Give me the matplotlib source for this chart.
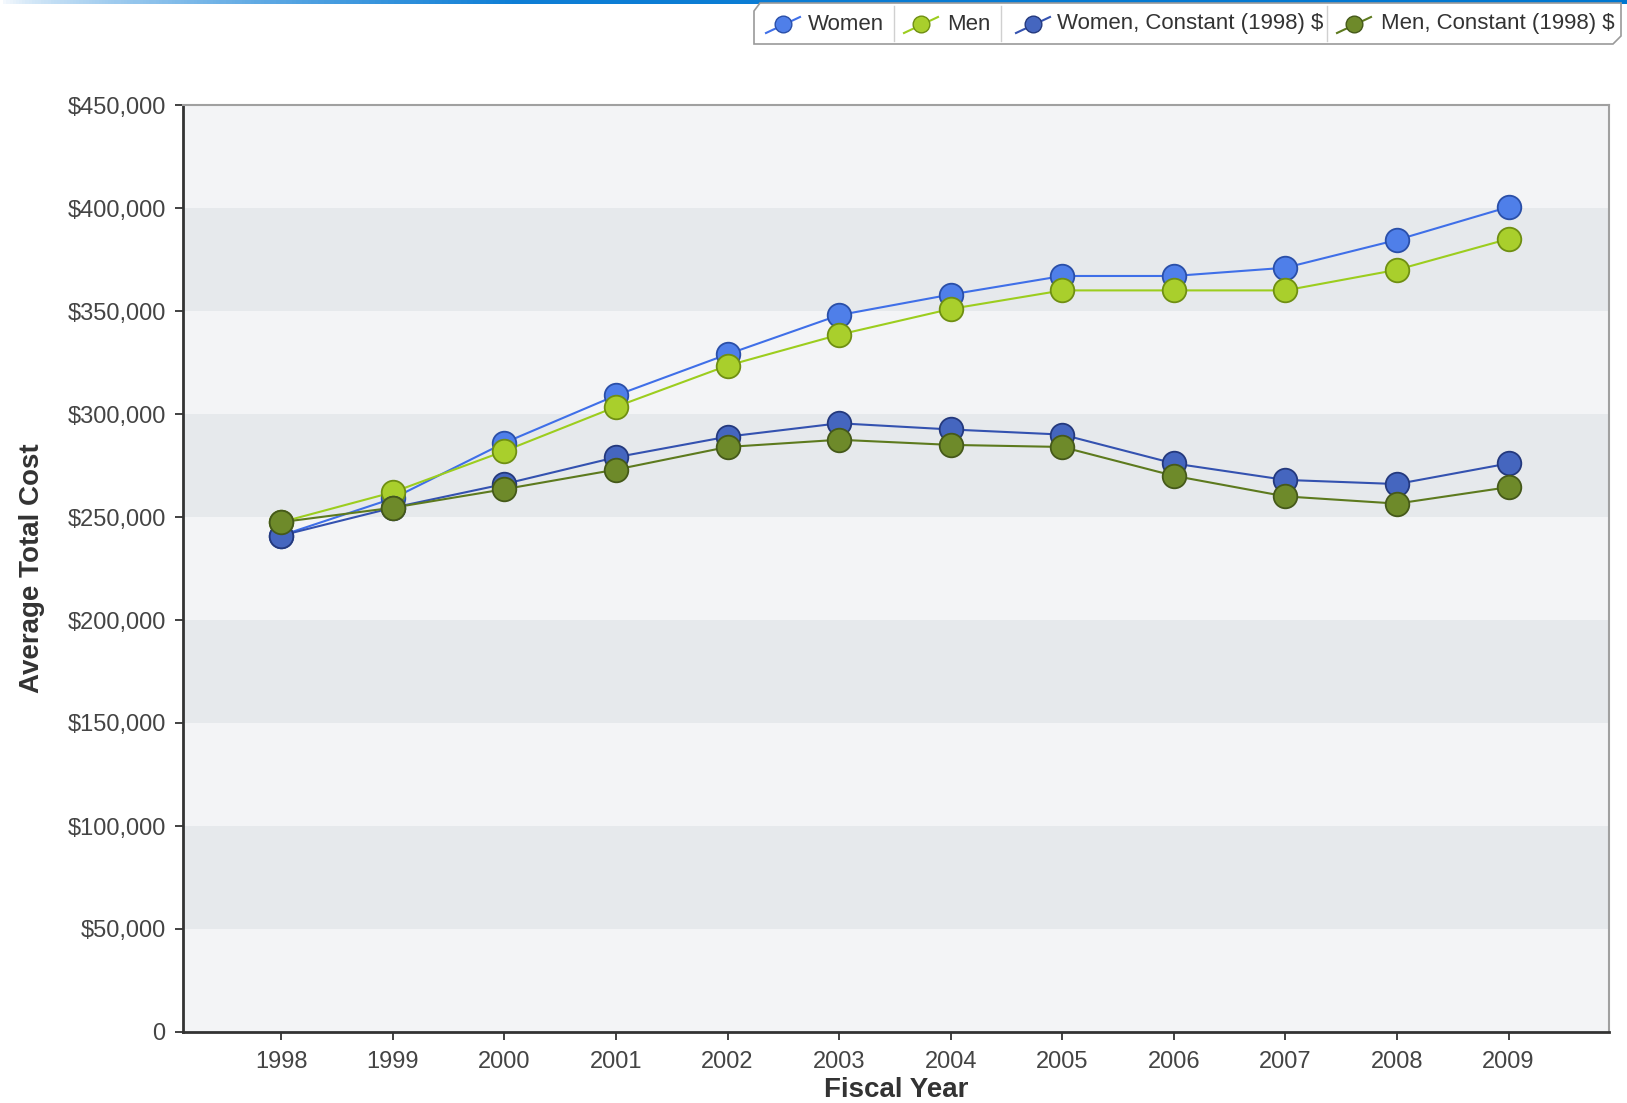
from matplotlib import pyplot as plt
from matplotlib.lines import Line2D
from matplotlib.patches import Polygon
from matplotlib.colors import LinearSegmentedColormap
import numpy as np

plt.rcParams['font.family'] = ['Liberation Sans', 'DejaVu Sans']

W, H = 1627, 1103

years = [1998, 1999, 2000, 2001, 2002, 2003, 2004, 2005, 2006, 2007, 2008, 2009]
women = [241000, 259000, 286000, 309000, 329000, 348000, 358000, 367000, 367000, 371000, 384500, 400500]
men = [247500, 262000, 282000, 303500, 323500, 338500, 351000, 360000, 360000, 360000, 370000, 385000]
women_const = [241000, 254500, 266000, 279000, 289000, 295500, 292500, 290000, 276000, 268000, 266000, 276000]
men_const = [247500, 254500, 263500, 273000, 284000, 287500, 285000, 284000, 270000, 260000, 256500, 264500]

series_names = ['Women', 'Men', 'Women, Constant (1998) $', 'Men, Constant (1998) $']
y_ticks = [0, 50000, 100000, 150000, 200000, 250000, 300000, 350000, 400000, 450000]

# (line colour, marker face, marker edge)
styles = [
    ('#3f6fe8', '#4f7fe9', '#2a4fa8'),
    ('#9ccd1e', '#a9cf2c', '#6f8f12'),
    ('#3452b0', '#4566bf', '#24397d'),
    ('#5d7a1e', '#6e8a2a', '#45591a'),
]

def px(x, y):
    # pixel position -> figure fraction
    return x / W, 1 - y / H

fig = plt.figure(figsize=(W / 100, H / 100), dpi=100)
fig.patch.set_facecolor('white')

# thin gradient strip along the top edge
grad = np.linspace(0, 1, 512) ** 0.6
grad = np.vstack([grad, grad])
gax = fig.add_axes([0, 1 - 4 / H, 1, 4 / H])
gax.imshow(grad, aspect='auto', extent=[0, 1, 0, 1],
           cmap=LinearSegmentedColormap.from_list('g', ['#ffffff', '#0f7fd6', '#0077d0']))
gax.axis('off')

ax = fig.add_axes([183 / W, 1 - 1032 / H, (1609 - 183) / W, (1032 - 105) / H])
ax.set_facecolor('#f3f4f6')

# alternating horizontal bands
for i in range(len(y_ticks) - 1):
    if i % 2 == 1:
        ax.axhspan(y_ticks[i], y_ticks[i + 1], color='#e6e9ec', lw=0, zorder=0)

all_series = [women, men, women_const, men_const]
for vals, (lc, fc, ec) in zip(all_series, styles):
    ax.plot(years, vals, color=lc, lw=1.5, zorder=2)
for vals, (lc, fc, ec) in zip(all_series, styles):
    ax.plot(years, vals, ls='none', marker='o', ms=17, mfc=fc, mec=ec, mew=1.3, zorder=3)

ax.set_xlim(1997.12, 2009.9)
ax.set_ylim(0, 450000)
ax.set_xticks(years)
ax.set_xticklabels([str(y) for y in years], fontsize=17, color='#444444')
ax.set_yticks(y_ticks)
ax.set_yticklabels(['0'] + ['${:,}'.format(v) for v in y_ticks[1:]], fontsize=17, color='#444444')
ax.tick_params(axis='both', direction='out', length=6, width=1.3, color='#333333')
ax.tick_params(axis='y', pad=6.5)
ax.tick_params(axis='x', pad=8)

for side in ['left', 'bottom']:
    ax.spines[side].set_color('#333333')
    ax.spines[side].set_linewidth(2)
for side in ['top', 'right']:
    ax.spines[side].set_color('#a0a0a0')
    ax.spines[side].set_linewidth(1.5)

ax.set_xlabel('Fiscal Year', fontsize=20, fontweight='bold', color='#333333', va='center')
ax.set_ylabel('Average Total Cost', fontsize=20, fontweight='bold', color='#333333', va='center')
ax.xaxis.set_label_coords(0.5, (1032 - 1090) / 927)
ax.yaxis.set_label_coords((32 - 183) / 1426, 0.5)

# legend box with clipped corners
x0, x1, y0, y1 = 754, 1621, 3, 44
box = Polygon([px(x0 + 6, y0), px(x1, y0), px(x1, y1 - 8), px(x1 - 8, y1),
               px(x0, y1), px(x0, y0 + 8)], closed=True,
              transform=fig.transFigure, facecolor='white', edgecolor='#9a9a9a', lw=1.2)
fig.patches.append(box)
for sx in [894, 1001, 1327]:
    fig.add_artist(Line2D([sx / W, sx / W], [1 - (y0 + 3) / H, 1 - (y1 - 3) / H],
                          transform=fig.transFigure, color='#d0d0d0', lw=1))

icon_x = [783, 921, 1033, 1354]
text_x = [808, 947, 1057, 1381]
yc = 24
for ix, tx, (lc, fc, ec), name in zip(icon_x, text_x, styles, series_names):
    xa, ya = px(ix - 17, yc + 9)
    xb, yb = px(ix + 17, yc - 7)
    fig.add_artist(Line2D([xa, xb], [ya, yb], transform=fig.transFigure, color=lc, lw=1.5))
    mx, my = px(ix, yc)
    fig.add_artist(Line2D([mx], [my], transform=fig.transFigure, marker='o', ms=12,
                          mfc=fc, mec=ec, mew=1))
    tx_f, ty_f = px(tx, yc)
    fig.text(tx_f, ty_f, name, fontsize=16, color='#333333', va='center', ha='left')

plt.savefig('out.png', dpi=100)
